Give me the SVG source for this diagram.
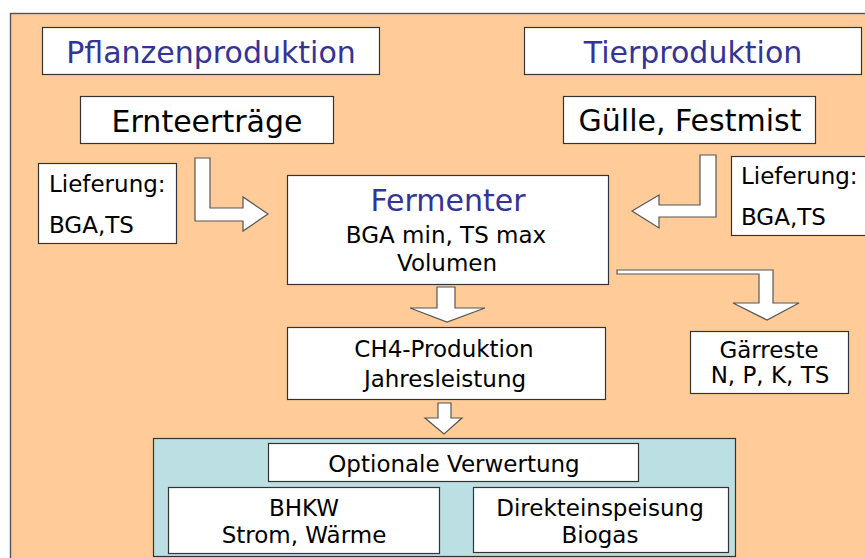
<svg xmlns="http://www.w3.org/2000/svg" width="865" height="558" viewBox="0 0 865 558">
<style>
.box{fill:#ffffff;stroke:#333333;stroke-width:1.2}
.arr{fill:#ffffff;stroke:#555555;stroke-width:1.2;stroke-linejoin:miter}
text{font-family:"DejaVu Sans","Verdana",sans-serif;fill:#000000;text-anchor:middle}
.h{font-size:30px;fill:#333399}
.hb{font-size:30px}
.t{font-size:23px}
.l{font-size:23px;text-anchor:start}
</style>
<rect x="0" y="0" width="865" height="558" fill="#ffffff"/>
<rect x="10.5" y="13.5" width="870" height="560" fill="#ffcc99" stroke="#555555" stroke-width="1.4"/>
<g id="connectors">
<polygon class="arr" points="195,158 210,158 210,208 243,208 243,197 268,214 243,231 243,221 195,221"/>
<polygon class="arr" points="700,155 716,155 716,217 659,217 659,228 632,211 659,195 659,205 700,205"/>
<polygon class="arr" points="437,287 455,287 455,308 485,308 447,322 410,308 437,308"/>
<polygon class="arr" points="438,403 451,403 451,418 462,418 444,434 425,418 438,418"/>
<polygon class="arr" points="617,270 773,270 773,303 799,303 767,320 733,303 759,303 759,274 617,274"/>
</g>
<g id="pflanzen"><rect class="box" x="42.5" y="27.5" width="337" height="47"/><text class="h" x="211" y="63">Pflanzenproduktion</text></g>
<g id="tier"><rect class="box" x="524.5" y="27.5" width="337" height="47"/><text class="h" x="693" y="63">Tierproduktion</text></g>
<g id="ernte"><rect class="box" x="80.5" y="96.5" width="253" height="47"/><text class="hb" x="207" y="132">Ernteerträge</text></g>
<g id="guelle"><rect class="box" x="563.5" y="96.5" width="252" height="47"/><text class="hb" x="690" y="131">Gülle, Festmist</text></g>
<g id="liefer1"><rect class="box" x="38.5" y="163.5" width="138" height="80"/><text class="l" x="49" y="192">Lieferung:</text><text class="l" x="49" y="233">BGA,TS</text></g>
<g id="liefer2"><rect class="box" x="731.5" y="156.5" width="140" height="79"/><text class="l" x="741" y="184">Lieferung:</text><text class="l" x="741" y="225">BGA,TS</text></g>
<g id="fermenter"><rect class="box" x="287.5" y="175.5" width="321" height="109"/><text class="h" x="448" y="211">Fermenter</text><text class="t" x="446" y="243">BGA min, TS max</text><text class="t" x="447" y="271">Volumen</text></g>
<g id="ch4"><rect class="box" x="287.5" y="327.5" width="318" height="72"/><text class="t" x="444" y="357">CH4-Produktion</text><text class="t" x="445" y="387">Jahresleistung</text></g>
<g id="gaerreste"><rect class="box" x="690.5" y="331.5" width="158" height="62"/><text class="t" x="769" y="358">Gärreste</text><text class="t" x="770" y="383">N, P, K, TS</text></g>
<g id="verwertung">
<rect x="153.5" y="438.5" width="582" height="118" fill="#bbdfe2" stroke="#333333" stroke-width="1.2"/>
<g id="optionale"><rect class="box" x="268.5" y="443.5" width="370" height="38"/><text class="t" x="454" y="472">Optionale Verwertung</text></g>
<g id="bhkw"><rect class="box" x="168.5" y="487.5" width="271" height="66"/><text class="t" x="304" y="516">BHKW</text><text class="t" x="304" y="543">Strom, Wärme</text></g>
<g id="direkt"><rect class="box" x="473.5" y="487.5" width="255" height="65"/><text class="t" x="600" y="516">Direkteinspeisung</text><text class="t" x="600" y="543">Biogas</text></g>
</g>
</svg>
